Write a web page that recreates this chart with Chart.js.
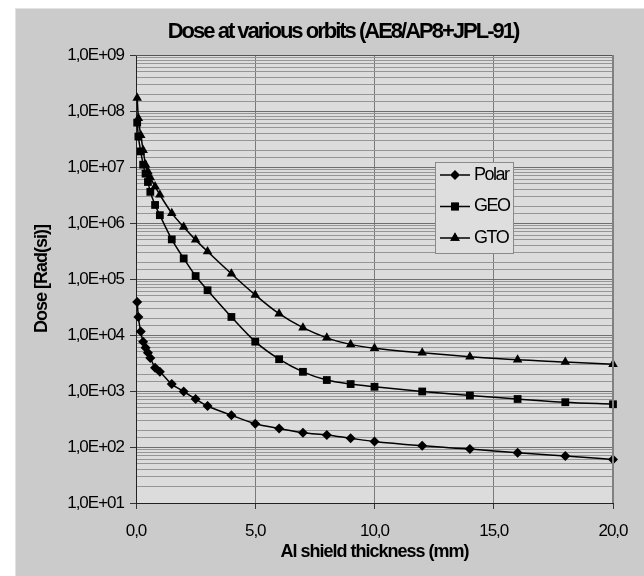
<!DOCTYPE html>
<html>
<head>
<meta charset="utf-8">
<script src="https://cdn.jsdelivr.net/npm/chart.js"></script>
<style>
  html, body { margin: 0; padding: 0; background: #ffffff; }
  #wrap { width: 644px; height: 576px; }
</style>
</head>
<body>
<div id="wrap"><canvas id="c" width="644" height="576"></canvas></div>
<script>
// Shield thickness (mm) and total dose (rad(Si)) per orbit
const thickness = [0.05, 0.1, 0.2, 0.3, 0.4, 0.5, 0.6, 0.8, 1, 1.5, 2, 2.5, 3, 4, 5, 6, 7, 8, 9, 10, 12, 14, 16, 18, 20];
const polarDose = [3.9e4, 2.1e4, 1.15e4, 7.6e3, 5.9e3, 4.8e3, 3.9e3, 2.6e3, 2.2e3, 1.33e3, 980, 720, 540, 370, 260, 214, 180, 164, 143, 125, 105, 92, 79, 69, 60];
const geoDose = [6.2e7, 3.5e7, 1.9e7, 1.1e7, 7.6e6, 5.4e6, 3.6e6, 2.1e6, 1.38e6, 5.1e5, 2.33e5, 1.13e5, 6.3e4, 2.1e4, 7.6e3, 3.7e3, 2.2e3, 1.57e3, 1.33e3, 1.19e3, 980, 830, 720, 630, 580];
const gtoDose = [1.7e8, 7.4e7, 3.7e7, 2.0e7, 1.1e7, 8.3e6, 6.5e6, 4.5e6, 3.2e6, 1.5e6, 8.5e5, 5.0e5, 3.1e5, 1.24e5, 5.2e4, 2.4e4, 1.35e4, 8.9e3, 6.8e3, 5.8e3, 4.8e3, 4.1e3, 3.6e3, 3.3e3, 3.0e3];

const seriesNames = ['Polar', 'GEO', 'GTO'];
const xTicks = [0, 5, 10, 15, 20];
const xTickLabels = ['0,0', '5,0', '10,0', '15,0', '20,0'];
const yTickLabels = ['1,0E+01', '1,0E+02', '1,0E+03', '1,0E+04', '1,0E+05', '1,0E+06', '1,0E+07', '1,0E+08', '1,0E+09'];

const chartTitle = 'Dose at various orbits (AE8/AP8+JPL-91)';
const xTitle = 'Al shield thickness (mm)';
const yTitle = 'Dose [Rad(si)]';

const FONT = "'Liberation Sans', Arial, sans-serif";
Chart.defaults.font.family = FONT;
Chart.defaults.color = '#000';

const toPoints = ys => thickness.map((x, i) => ({ x: x, y: ys[i] }));
const isDecade = v => Math.abs(Math.log10(v) - Math.round(Math.log10(v))) < 1e-9;

const styles = [
  { pointStyle: 'rectRot', radius: 5 },
  { pointStyle: 'rect', radius: 5.5 },
  { pointStyle: 'triangle', radius: 5.5 }
];

const datasets = [polarDose, geoDose, gtoDose].map((ys, i) => ({
  label: seriesNames[i],
  data: toPoints(ys),
  borderColor: '#000',
  backgroundColor: '#000',
  borderWidth: 1.5,
  pointStyle: styles[i].pointStyle,
  pointRadius: styles[i].radius,
  pointBorderWidth: 0,
  pointBackgroundColor: '#000',
  cubicInterpolationMode: 'monotone',
  clip: false
}));

// Backgrounds, frame, title and the boxed legend
const decor = {
  id: 'decor',
  beforeDraw(chart) {
    const { ctx, chartArea: a } = chart;
    ctx.save();
    ctx.fillStyle = '#ffffff';
    ctx.fillRect(0, 0, chart.width, chart.height);
    ctx.fillStyle = '#cbcbcb';
    ctx.fillRect(15, 8, chart.width - 15, chart.height - 8);
    ctx.strokeStyle = '#e2e2e2';
    ctx.lineWidth = 1;
    ctx.strokeRect(15.5, 8.5, chart.width - 15, chart.height - 8);
    ctx.fillStyle = '#dcdcdc';
    ctx.fillRect(a.left, a.top, a.right - a.left, a.bottom - a.top);
    ctx.restore();
    // tight lettering for all axis text
    ctx.letterSpacing = '-1px';
  },
  afterDraw(chart) {
    const { ctx, chartArea: a } = chart;
    ctx.save();
    // frame: dark top edge, grey right edge
    ctx.strokeStyle = '#555';
    ctx.lineWidth = 1;
    ctx.beginPath();
    ctx.moveTo(a.left, a.top + 0.5);
    ctx.lineTo(a.right, a.top + 0.5);
    ctx.stroke();
    ctx.strokeStyle = '#808080';
    ctx.lineWidth = 2;
    ctx.beginPath();
    ctx.moveTo(a.right, a.top);
    ctx.lineTo(a.right, a.bottom);
    ctx.stroke();

    // title
    ctx.fillStyle = '#000';
    ctx.font = 'bold 22px ' + FONT;
    ctx.letterSpacing = '-2px';
    ctx.textAlign = 'center';
    ctx.textBaseline = 'middle';
    ctx.fillText(chartTitle, 343, 32);

    // legend
    const lx = 435, ly = 162, lw = 78, lh = 91;
    ctx.fillStyle = '#dedede';
    ctx.fillRect(lx, ly, lw, lh);
    ctx.strokeStyle = '#8a8a8a';
    ctx.lineWidth = 1;
    ctx.strokeRect(lx + 0.5, ly + 0.5, lw, lh);
    ctx.font = '18px ' + FONT;
    ctx.letterSpacing = '-1.5px';
    ctx.textAlign = 'left';
    chart.data.datasets.forEach((ds, i) => {
      const cy = ly + 13 + i * 31.5;
      ctx.strokeStyle = '#000';
      ctx.lineWidth = 1.5;
      ctx.beginPath();
      ctx.moveTo(lx + 5, cy);
      ctx.lineTo(lx + 35, cy);
      ctx.stroke();
      Chart.helpers.drawPoint(ctx, {
        pointStyle: ds.pointStyle, radius: ds.pointRadius, borderWidth: 0, rotation: 0
      }, lx + 20, cy);
      ctx.fillStyle = '#000';
      ctx.fill();
      ctx.fillText(ds.label, lx + 39, cy);
    });
    ctx.restore();
  }
};

new Chart(document.getElementById('c'), {
  type: 'line',
  data: { datasets },
  plugins: [decor],
  options: {
    responsive: false,
    animation: false,
    events: [],
    layout: { padding: { left: 0, top: 55, right: 31, bottom: 0 } },
    plugins: { legend: { display: false }, title: { display: false }, tooltip: { enabled: false } },
    scales: {
      x: {
        type: 'linear',
        min: 0,
        max: 20,
        afterBuildTicks: s => { s.ticks = xTicks.map(v => ({ value: v })); },
        afterFit: s => { s.height = 73; },
        ticks: {
          autoSkip: false, maxRotation: 0, padding: 12,
          font: { size: 17 }, color: '#000',
          callback: v => xTickLabels[xTicks.indexOf(v)]
        },
        grid: { color: '#7a7a7a', lineWidth: 1, tickColor: '#333', tickLength: 6 },
        border: { color: '#222', width: 1 },
        title: {
          display: true, text: xTitle, color: '#000',
          font: { size: 18, weight: 'bold' }, padding: { top: 0, bottom: 13 }
        }
      },
      y: {
        type: 'logarithmic',
        min: 10,
        max: 1e9,
        afterFit: s => { s.width = 136; },
        ticks: {
          autoSkip: false, padding: 6,
          font: { size: 17 }, color: '#000',
          callback: v => isDecade(v) ? yTickLabels[Math.round(Math.log10(v)) - 1] : ''
        },
        grid: {
          color: c => isDecade(c.tick.value) ? '#6e6e6e' : '#959595',
          lineWidth: 1,
          tickColor: c => isDecade(c.tick.value) ? '#333' : 'rgba(0,0,0,0)',
          tickLength: 6
        },
        border: { color: '#222', width: 1 },
        title: {
          display: true, text: yTitle, color: '#000',
          font: { size: 18, weight: 'bold' }, padding: { top: 31, bottom: 0 }
        }
      }
    }
  }
});
</script>
</body>
</html>
